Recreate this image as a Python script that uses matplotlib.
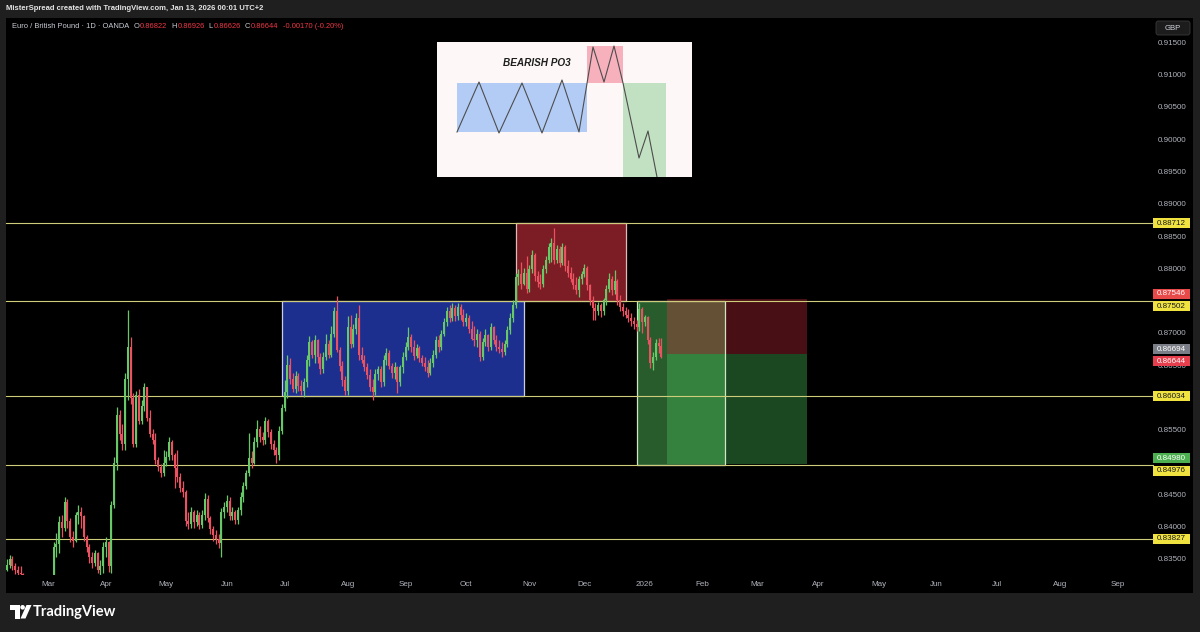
import matplotlib
matplotlib.use('Agg')
import matplotlib.pyplot as plt
import numpy as np
import pandas as pd
from matplotlib.patches import Rectangle, Polygon, Circle, FancyBboxPatch
from matplotlib.transforms import blended_transform_factory

plt.rcParams['font.family'] = ['Liberation Sans', 'DejaVu Sans']

# EUR/GBP daily candles (OANDA), prices in 1e-4 units
first_open = 8335
closes = [
    8342, 8352, 8340, 8335, 8330, 8328, 8295, 8288, 8290, 8280,
    8275, 8282, 8270, 8282, 8265, 8275, 8300, 8370, 8375, 8408,
    8400, 8440, 8410, 8385, 8380, 8420, 8425, 8418, 8385, 8370,
    8355, 8345, 8360, 8335, 8340, 8370, 8378, 8340, 8435, 8500,
    8575, 8545, 8530, 8630, 8680, 8600, 8530, 8605, 8565, 8588,
    8618, 8570, 8545, 8535, 8505, 8494, 8485, 8500, 8510, 8532,
    8512, 8492, 8478, 8462, 8455, 8410, 8405, 8425, 8408, 8420,
    8404, 8420, 8445, 8415, 8398, 8388, 8382, 8376, 8425, 8432,
    8442, 8418, 8425, 8412, 8428, 8448, 8465, 8484, 8508, 8500,
    8532, 8552, 8540, 8535, 8565, 8548, 8530, 8520, 8512, 8550,
    8585, 8610, 8652, 8630, 8615, 8635, 8620, 8612, 8625, 8660,
    8688, 8668, 8690, 8665, 8645, 8665, 8685, 8668, 8700, 8735,
    8675, 8650, 8628, 8612, 8710, 8685, 8708, 8725, 8668, 8660,
    8648, 8636, 8618, 8610, 8638, 8645, 8625, 8660, 8670, 8650,
    8640, 8648, 8625, 8648, 8665, 8680, 8695, 8680, 8666, 8678,
    8662, 8655, 8648, 8640, 8655, 8668, 8690, 8680, 8700, 8718,
    8735, 8725, 8740, 8728, 8742, 8730, 8718, 8725, 8708, 8692,
    8690, 8700, 8665, 8688, 8698, 8680, 8710, 8690, 8680, 8676,
    8672, 8685, 8706, 8725, 8745, 8788, 8792, 8778, 8795, 8770,
    8800, 8822, 8790, 8780, 8778, 8800, 8815, 8835, 8840, 8815,
    8832, 8810, 8835, 8805, 8795, 8785, 8775, 8768, 8785, 8792,
    8802, 8775, 8752, 8740, 8735, 8745, 8735, 8752, 8770, 8785,
    8768, 8782, 8752, 8742, 8735, 8730, 8725, 8720, 8715, 8710,
    8738, 8718, 8726, 8690, 8655, 8665, 8686, 8681, 8664]
highs = [
    8352, 8357, 8356, 8346, 8341, 8340, 8330, 8302, 8298, 8300,
    8290, 8292, 8290, 8295, 8290, 8300, 8310, 8378, 8392, 8418,
    8420, 8448, 8445, 8415, 8395, 8425, 8435, 8432, 8420, 8388,
    8375, 8362, 8365, 8362, 8350, 8378, 8385, 8380, 8442, 8510,
    8587, 8582, 8560, 8640, 8737, 8695, 8609, 8612, 8614, 8598,
    8624, 8618, 8582, 8552, 8546, 8510, 8498, 8520, 8518, 8540,
    8536, 8515, 8520, 8485, 8472, 8458, 8425, 8432, 8428, 8428,
    8425, 8428, 8454, 8450, 8418, 8402, 8396, 8390, 8430, 8440,
    8450, 8448, 8432, 8428, 8432, 8455, 8470, 8490, 8546, 8518,
    8540, 8567, 8558, 8548, 8572, 8568, 8552, 8535, 8525, 8558,
    8592, 8628, 8668, 8662, 8640, 8642, 8640, 8628, 8632, 8668,
    8696, 8690, 8698, 8692, 8670, 8672, 8700, 8690, 8712, 8742,
    8758, 8680, 8658, 8635, 8728, 8730, 8715, 8732, 8745, 8680,
    8668, 8655, 8645, 8630, 8645, 8650, 8650, 8668, 8678, 8675,
    8655, 8656, 8650, 8652, 8672, 8688, 8711, 8700, 8690, 8684,
    8682, 8668, 8664, 8660, 8662, 8675, 8696, 8698, 8706, 8724,
    8742, 8745, 8748, 8745, 8748, 8746, 8738, 8732, 8730, 8720,
    8712, 8708, 8705, 8694, 8708, 8700, 8717, 8712, 8698, 8690,
    8688, 8690, 8712, 8732, 8752, 8795, 8800, 8812, 8802, 8820,
    8806, 8830, 8826, 8798, 8792, 8806, 8820, 8841, 8848, 8864,
    8838, 8836, 8841, 8838, 8814, 8804, 8794, 8788, 8790, 8798,
    8808, 8805, 8778, 8758, 8748, 8750, 8748, 8756, 8776, 8794,
    8790, 8799, 8785, 8760, 8748, 8742, 8738, 8732, 8726, 8722,
    8748, 8742, 8730, 8728, 8695, 8672, 8692, 8694, 8693]
lows = [
    8333, 8337, 8334, 8328, 8325, 8322, 8290, 8280, 8275, 8272,
    8265, 8268, 8262, 8265, 8255, 8260, 8270, 8295, 8355, 8360,
    8385, 8395, 8400, 8378, 8370, 8378, 8405, 8400, 8380, 8362,
    8345, 8338, 8340, 8330, 8325, 8330, 8355, 8332, 8330, 8430,
    8490, 8536, 8520, 8520, 8598, 8592, 8525, 8525, 8560, 8560,
    8580, 8565, 8540, 8530, 8498, 8488, 8478, 8480, 8495, 8505,
    8505, 8462, 8470, 8455, 8448, 8402, 8398, 8400, 8400, 8402,
    8398, 8400, 8412, 8408, 8390, 8380, 8374, 8368, 8355, 8415,
    8425, 8412, 8412, 8405, 8405, 8420, 8440, 8460, 8480, 8492,
    8498, 8525, 8532, 8528, 8530, 8540, 8522, 8512, 8500, 8505,
    8545, 8580, 8600, 8622, 8610, 8608, 8612, 8606, 8603, 8618,
    8650, 8662, 8655, 8655, 8638, 8640, 8660, 8662, 8665, 8695,
    8672, 8642, 8620, 8605, 8605, 8678, 8680, 8700, 8660, 8655,
    8642, 8630, 8612, 8598, 8605, 8628, 8618, 8620, 8652, 8645,
    8632, 8630, 8609, 8620, 8640, 8660, 8675, 8672, 8660, 8662,
    8656, 8650, 8642, 8633, 8636, 8648, 8662, 8672, 8675, 8696,
    8712, 8718, 8720, 8720, 8722, 8722, 8712, 8712, 8702, 8690,
    8682, 8680, 8658, 8660, 8682, 8674, 8675, 8684, 8674, 8670,
    8665, 8668, 8680, 8700, 8718, 8740, 8775, 8770, 8775, 8764,
    8765, 8795, 8782, 8772, 8770, 8772, 8795, 8810, 8812, 8808,
    8810, 8804, 8806, 8798, 8788, 8780, 8770, 8762, 8757, 8778,
    8788, 8768, 8745, 8722, 8721, 8730, 8726, 8730, 8745, 8765,
    8760, 8762, 8745, 8736, 8728, 8724, 8718, 8712, 8708, 8705,
    8705, 8701, 8712, 8684, 8647, 8644, 8660, 8670, 8663]

start_day = '2025-02-10'
axis_end = '2026-09-30'
fx_holidays = ['2025-12-25', '2026-01-01']

# header values of the last bar
last_o, last_h, last_l, last_c = 0.86822, 0.86926, 0.86626, 0.86644
chg, chg_pct = -0.00170, -0.20

levels = [0.88712, 0.87502, 0.86034, 0.84976, 0.83827]
price_ticks = [0.915, 0.910, 0.905, 0.900, 0.895, 0.890, 0.885, 0.880,
               0.870, 0.865, 0.855, 0.845, 0.840, 0.835]

# zones: (start, end, low, high)
range_box = ('2025-06-30', '2025-10-30', 0.86034, 0.87502)
manip_box = ('2025-10-27', '2025-12-22', 0.87502, 0.88712)
distr_box = ('2025-12-29', '2026-02-12', 0.84976, 0.87502)
short_span = ('2026-01-14', '2026-03-26')
entry, stop, target = 0.86694, 0.87546, 0.84980

tags = [(0.88712, 'level'), (0.87546, 'stop'), (0.87502, 'level'),
        (0.86694, 'entry'), (0.86644, 'last'), (0.86034, 'level'),
        (0.84980, 'target'), (0.84976, 'level'), (0.83827, 'level')]
tag_style = {'level': ('#f1e33f', '#131722'), 'stop': ('#e84a4a', 'white'),
             'entry': ('#7b7e87', 'white'), 'last': ('#e63e4d', 'white'),
             'target': ('#4caf50', 'white')}

# inset sketch (BEARISH PO3), units of the inset box
po3_u = [20, 42, 62, 85, 105, 125, 142, 156, 167, 177, 186, 202, 211, 220]
po3_v = [90, 40, 91, 41, 91, 38, 90, 5, 40, 4, 41, 116, 89, 135]

UP, DN = '#66c866', '#ea5261'
W, H = 1200, 632

fig = plt.figure(figsize=(12, 6.32), dpi=100, facecolor='#1f1f1f')

bg = fig.add_axes([0, 0, 1, 1])
bg.set_xlim(0, W)
bg.set_ylim(H, 0)
bg.axis('off')
bg.set_zorder(0)
bg.add_patch(Rectangle((6, 18), 1187, 575, fc='black', ec='none'))

ax = fig.add_axes([6 / W, (H - 575) / H, 1142 / W, 557 / H])
ax.set_zorder(1)
ax.set_facecolor('black')
for s in ax.spines.values():
    s.set_visible(False)
ax.set_xticks([])
ax.set_yticks([])
ax.set_xlim(-0.3, 415.0)
ymin, ymax = 0.832668, 0.918918
ax.set_ylim(ymin, ymax)
ppp = 557 / (ymax - ymin)  # pixels per price unit

days = pd.bdate_range(start_day, axis_end, freq='C', holidays=fx_holidays)


def xpos(d):
    return days.get_loc(pd.Timestamp(d))


# candles
c = np.array(closes) / 1e4
h = np.array(highs) / 1e4
l = np.array(lows) / 1e4
o = np.concatenate([[first_open / 1e4], c[:-1]])
x = np.arange(len(c))
col = np.where(c >= o, UP, DN)
ax.vlines(x, l, h, colors=col, lw=0.9, zorder=4)
ax.bar(x, np.maximum(np.abs(c - o), 0.00008), bottom=np.minimum(o, c),
       width=0.72, color=col, lw=0, zorder=4)

# zones
x0, x1 = xpos(range_box[0]), xpos(range_box[1])
ax.add_patch(Rectangle((x0, range_box[2]), x1 - x0, range_box[3] - range_box[2],
                       fc='#1c2f8f', ec='#c8cde6', lw=0.9, zorder=1))
x0, x1 = xpos(manip_box[0]), xpos(manip_box[1])
ax.add_patch(Rectangle((x0, manip_box[2]), x1 - x0, manip_box[3] - manip_box[2],
                       fc='#7c1c24', ec='#e3b8b8', lw=0.9, zorder=1))
x0, x1 = xpos(distr_box[0]), xpos(distr_box[1])
ax.add_patch(Rectangle((x0, distr_box[2]), x1 - x0, distr_box[3] - distr_box[2],
                       fc='#285c2d', ec='none', zorder=1))
ax.add_patch(Rectangle((x0, distr_box[2]), x1 - x0, distr_box[3] - distr_box[2],
                       fill=False, ec='#cfe6c0', lw=0.9, zorder=2))
p0, p1 = xpos(short_span[0]), xpos(short_span[1])
ax.add_patch(Rectangle((p0, entry), p1 - p0, stop - entry,
                       fc='#f23645', alpha=0.30, ec='none', zorder=1.5))
ax.add_patch(Rectangle((p0, target), p1 - p0, entry - target,
                       fc='#4cc85a', alpha=0.36, ec='none', zorder=1.5))

# horizontal levels, running into the price scale
blend_ax = blended_transform_factory(ax.transAxes, ax.transData)
for lv in levels:
    ax.plot([0, 1147 / 1142], [lv, lv], color='#cfcd7c', lw=0.8,
            transform=blend_ax, clip_on=False, zorder=2.5)

# time axis labels
blend_t = blended_transform_factory(ax.transData, bg.transData)
ser = days.to_series()
firsts = ser.groupby([days.year, days.month]).first()
for d in firsts:
    xi = xpos(d)
    if xi < 10 or xi > 414:
        continue
    lab = str(d.year) if d.month == 1 else d.strftime('%b')
    bg.text(xi, 584, lab, transform=blend_t, ha='center', va='center',
            fontsize=5.8, color='#b2b5be', zorder=5)

# price scale
blend_p = blended_transform_factory(bg.transData, ax.transData)
for t in price_ticks:
    bg.text(1172.5, t, f'{t:.5f}', transform=blend_p, ha='center', va='center',
            fontsize=5.8, color='#b2b5be', zorder=5)

gap = 12.4 / ppp
tag_h = 10 / ppp
ordered = sorted(tags, key=lambda t: -t[0])
groups, grp = [], [ordered[0]]
for t in ordered[1:]:
    if grp[-1][0] - t[0] < gap:
        grp.append(t)
    else:
        groups.append(grp)
        grp = [t]
groups.append(grp)
for g in groups:
    mid = np.mean([t[0] for t in g])
    for j, (price, kind) in enumerate(g):
        yc = mid + ((len(g) - 1) / 2 - j) * gap
        fc, tc = tag_style[kind]
        bg.add_patch(Rectangle((1153, yc - tag_h / 2), 37, tag_h, fc=fc, ec='none',
                               transform=blend_p, zorder=6))
        bg.text(1171.5, yc, f'{price:.5f}', transform=blend_p, ha='center',
                va='center', fontsize=5.8, color=tc, zorder=7)

bg.add_patch(FancyBboxPatch((1156, 21), 34, 14, boxstyle='round,pad=0,rounding_size=2.5',
                            fc='#1c1c1c', ec='#3a3a3a', lw=0.6, zorder=6))
bg.text(1173, 28.3, 'GBP', ha='center', va='center', fontsize=5.6, color='#d1d4dc', zorder=7)

# header texts
fig.text(6 / W, 1 - 9 / H, 'MisterSpread created with TradingView.com, Jan 13, 2026 00:01 UTC+2',
         color='#e4e4e4', fontsize=5.5, fontweight='bold', va='center', ha='left')

renderer = fig.canvas.get_renderer()
hdr = [('Euro / British Pound \u00b7 1D \u00b7 OANDA', '#c9ccd4', 4),
       ('O', '#c9ccd4', 0.8), (f'{last_o:.5f}', '#f23645', 4),
       ('H', '#c9ccd4', 0.8), (f'{last_h:.5f}', '#f23645', 4),
       ('L', '#c9ccd4', 0.8), (f'{last_l:.5f}', '#f23645', 4),
       ('C', '#c9ccd4', 0.8), (f'{last_c:.5f}', '#f23645', 4),
       (f'{chg:.5f} ({chg_pct:.2f}%)', '#f23645', 0)]
xp = 12
for s, colr, gp in hdr:
    t = fig.text(xp, 27, s, color=colr, fontsize=5.45, va='center', ha='left',
                 transform=bg.transData, zorder=8)
    xp += t.get_window_extent(renderer).width + gp

# footer logo
bg.add_patch(Polygon([(10, 605), (19.5, 605), (19.5, 618.5), (15, 618.5), (15, 609.5), (10, 609.5)],
                     closed=True, fc='white', ec='none'))
bg.add_patch(Circle((22.6, 607.3), 2.3, fc='white', ec='none'))
bg.add_patch(Polygon([(26.5, 605), (31.5, 605), (25.5, 618.5), (20.5, 618.5)],
                     closed=True, fc='white', ec='none'))
bg.text(33, 612, 'TradingView', color='white', fontsize=10.5, fontweight='bold',
        va='center', ha='left', family=['Lato', 'DejaVu Sans'])

# inset sketch
ins = fig.add_axes([437 / W, (H - 177) / H, 255 / W, 135 / H])
ins.set_zorder(3)
ins.set_facecolor('#fdf8f7')
ins.set_xlim(0, 255)
ins.set_ylim(135, 0)
ins.set_xticks([])
ins.set_yticks([])
for s in ins.spines.values():
    s.set_visible(False)
ins.add_patch(Rectangle((20, 41), 130, 49, fc='#b3ccf5', ec='none'))
ins.add_patch(Rectangle((150, 4), 36, 37, fc='#f6b1bd', ec='none'))
ins.add_patch(Rectangle((186, 41), 43, 94, fc='#c2e0c2', ec='none'))
ins.plot(po3_u, po3_v, color='#4d4d4d', lw=0.8)
ins.text(100, 21, 'BEARISH PO3', ha='center', va='center', fontsize=7.2,
         fontweight='bold', style='italic', color='#1e1e1e')

fig.savefig('out.png', dpi=100, facecolor=fig.get_facecolor())
